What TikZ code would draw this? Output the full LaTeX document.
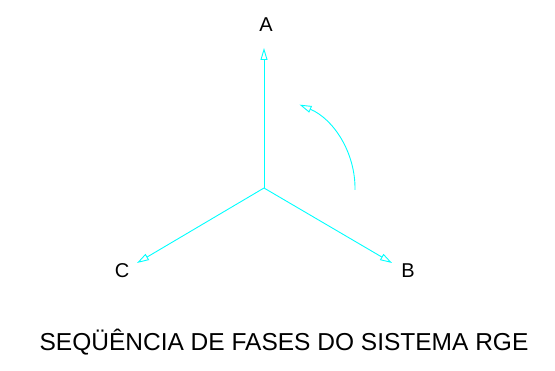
\documentclass[tikz,border=0pt]{standalone}
\usepackage{fontspec}
\setmainfont{Liberation Sans}
\usepackage{tikz}
\usetikzlibrary{arrows.meta}
\definecolor{phasecyan}{RGB}{0,255,255}

\begin{document}
\begin{tikzpicture}[x=1pt,y=-1pt,
  phase/.style={phasecyan,line width=0.9pt,-{Triangle[open,length=12pt,width=7pt]}},
  lbl/.style={font=\fontsize{20}{20}\selectfont,inner sep=0pt}]
      \useasboundingbox (0,0) rectangle (555,371);
      \coordinate (O) at (264,188);
      \coordinate (tipA) at (264,48);
      \coordinate (tipB) at (392,263);
      \coordinate (tipC) at (137,263);
      \draw[phase] (O) -- (tipA);
      \draw[phase] (O) -- (tipB);
      \draw[phase] (O) -- (tipC);
      \draw[phase] (355,190) arc[start angle=1,end angle=-67,radius=91];
      \node[lbl] (A) at (266,25) {A};
      \node[lbl] (B) at (408,271) {B};
      \node[lbl] (C) at (122,271) {C};
      \node[font=\fontsize{24.5}{24.5}\selectfont,inner sep=0pt] (title) at (284,342) {SEQÜÊNCIA DE FASES DO SISTEMA RGE};
\end{tikzpicture}
\end{document}
